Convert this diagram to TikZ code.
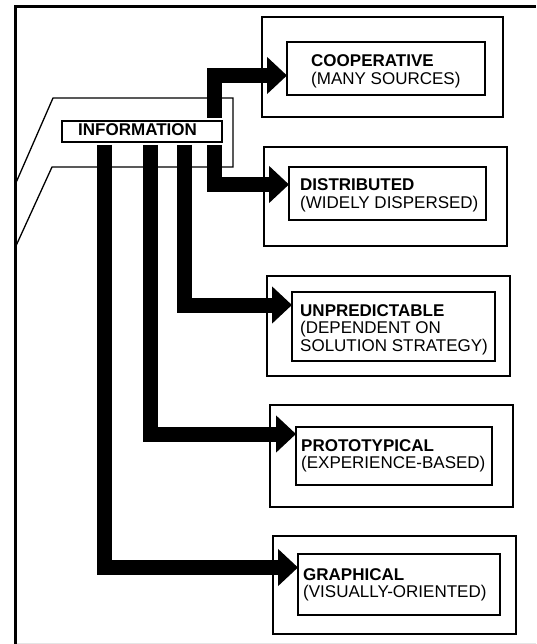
\documentclass[tikz,border=0pt]{standalone}
\usepackage{fontspec}
\setmainfont{Liberation Sans}
\usetikzlibrary{arrows.meta}
\begin{document}
\begin{tikzpicture}[x=1pt,y=-1pt,
  box/.style={draw, line width=1.4pt, rectangle, inner sep=0pt, outer sep=0pt, fill=white},
  infobox/.style={draw, line width=1.4pt, rectangle, inner sep=0pt, outer sep=3pt,
    minimum width=160pt, minimum height=21pt},
  lbl/.style={anchor=base west, inner sep=0pt, align=left, font=\fontsize{17}{17.5}\selectfont},
  flow/.style={line width=15pt, line join=miter, -{Triangle[length=20pt,width=36pt]}},
  tab/.style={line width=1.3pt, line join=miter}]
\useasboundingbox (0,0) rectangle (536,644);

% page frame
\draw[line width=3pt] (15.5,644) -- (15.5,6.5) -- (536,6.5);
\draw[black!10, line width=1pt] (17,643) -- (536,643);

% tab carrying the source box
\draw[tab] (15,185) -- (53,98) -- (233,98) -- (233,167) -- (52,167) -- (15,248);

% source box
\node[infobox] (info) at (142,131.5) {};
\node[anchor=base west, inner sep=0pt, font=\fontsize{17}{17.5}\selectfont\bfseries] (infoT) at (78,136) {INFORMATION};

% outer frames
\node[box, minimum width=241pt, minimum height=100pt] (coopO)  at (382.5,67)   {};
\node[box, minimum width=243pt, minimum height=99pt]  (distO)  at (385.5,196.5) {};
\node[box, minimum width=243pt, minimum height=100pt] (unpO)   at (388.5,326)  {};
\node[box, minimum width=243pt, minimum height=102pt] (protoO) at (391.5,456)  {};
\node[box, minimum width=243pt, minimum height=98pt]  (graphO) at (394.5,585)  {};

% inner frames
\node[box, minimum width=198pt, minimum height=53pt] (coopI)  at (386,68.5)  {};
\node[box, minimum width=197pt, minimum height=53pt] (distI)  at (387.5,193.5) {};
\node[box, minimum width=203pt, minimum height=69pt] (unpI)   at (393.5,326.5) {};
\node[box, minimum width=196pt, minimum height=58pt] (protoI) at (394,456)   {};
\node[box, minimum width=202pt, minimum height=61pt] (graphI) at (399,584.5) {};

% labels (anchored on the baseline of their last line)
\node[lbl] (coopT)  at (311,84.2)  {\textbf{COOPERATIVE}\\(MANY SOURCES)};
\node[lbl] (distT)  at (300,208.5) {\textbf{DISTRIBUTED}\\(WIDELY DISPERSED)};
\node[lbl] (unpT)   at (300,351)   {\textbf{UNPREDICTABLE}\\(DEPENDENT ON\\SOLUTION STRATEGY)};
\node[lbl] (protoT) at (301,468.5) {\textbf{PROTOTYPICAL}\\(EXPERIENCE-BASED)};
\node[lbl] (graphT) at (303,597.5) {\textbf{GRAPHICAL}\\(VISUALLY-ORIENTED)};

% flows
\draw[flow] (info.north -| 214,0) -- (214,75.5)  -- (coopI.west |- 0,75.5);
\draw[flow] (info.south -| 214,0) -- (214,184.5) -- (distI.west |- 0,184.5);
\draw[flow] (info.south -| 184,0) -- (184,305)   -- (unpI.west |- 0,305);
\draw[flow] (info.south -| 150,0) -- (150,434)   -- (protoI.west |- 0,434);
\draw[flow] (info.south -| 104,0) -- (104,567.5) -- (graphI.west |- 0,567.5);
\end{tikzpicture}
\end{document}
